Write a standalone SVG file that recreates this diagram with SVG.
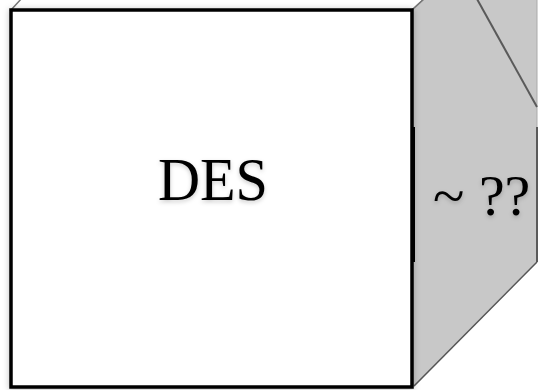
<svg xmlns="http://www.w3.org/2000/svg" width="539" height="390" viewBox="0 0 539 390">
  <defs>
    <filter id="shadow" x="-10%" y="-10%" width="120%" height="120%">
      <feDropShadow dx="0" dy="1" stdDeviation="3" flood-color="#000" flood-opacity="0.25"/>
    </filter>
    <filter id="tshadow" x="-10%" y="-10%" width="120%" height="130%">
      <feDropShadow dx="0" dy="2" stdDeviation="2" flood-color="#000" flood-opacity="0.2"/>
    </filter>
  </defs>
  <style>
    .edge { fill: none; stroke: #5a5a5a; stroke-width: 2; }
    .label { font-family: "Liberation Serif", "DejaVu Serif", serif; fill: #000; }
  </style>
  <rect width="539" height="390" fill="#fff"/>
  <g id="top-face">
    <polygon points="11,10 22,-2 425,-2 412,10" fill="#fff" stroke="#777" stroke-width="1.5"/>
  </g>
  <g id="side-face">
    <polygon points="412,10 425,-2 545,-2 545,0 537,0 537,262 414,387 412,387" fill="#c8c8c8"/>
    <line x1="412" y1="10" x2="424" y2="-1" stroke="#777" stroke-width="1.5"/>
    <line x1="537" y1="262" x2="414" y2="386" stroke="#555" stroke-width="1.5"/>
    <line x1="537" y1="0" x2="537" y2="262" stroke="#aaa" stroke-width="1"/>
    <line class="edge" x1="477" y1="-1" x2="537" y2="107"/>
    <line class="edge" x1="537" y1="127" x2="537" y2="262"/>
    <text class="label" x="433" y="215" font-size="58" filter="url(#tshadow)">~ ??</text>
  </g>
  <g id="front-face">
    <rect x="11" y="10" width="401" height="377" fill="#fff" stroke="#000" stroke-width="3.5" filter="url(#shadow)"/>
    <line x1="413.5" y1="127" x2="413.5" y2="262" stroke="#000" stroke-width="3"/>
    <text class="label" x="158" y="200" font-size="62" textLength="110" lengthAdjust="spacingAndGlyphs" filter="url(#tshadow)">DES</text>
  </g>
</svg>
